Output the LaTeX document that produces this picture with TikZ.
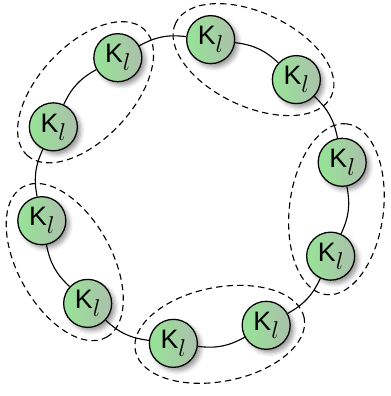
\documentclass[tikz,border=0pt]{standalone}
\usepackage{fontspec}
\setsansfont{Liberation Sans}
\usetikzlibrary{shapes.geometric,shadows.blur}

\definecolor{kLeft}{RGB}{150,228,150}
\definecolor{kRight}{RGB}{172,192,172}

\tikzset{
    kernel/.style={circle, draw=black, line width=0.9pt, minimum size=1.2cm, inner sep=0pt,
        left color=kLeft, right color=kRight,
        blur shadow={shadow xshift=2.5pt, shadow yshift=-2.5pt, shadow blur radius=3pt,
            shadow opacity=40},
        font=\fontsize{19}{22}\selectfont},
    pairbox/.style={ellipse, draw=black, dash pattern=on 4.5pt off 3pt, line width=0.8pt,
        inner sep=0pt, minimum width=4.3cm, minimum height=2.35cm},
    ring/.style={line width=0.8pt}
}

\begin{document}
\begin{tikzpicture}

        \def\ringRadius{3.825}
        \def\startAngle{47}
        \def\stepAngle{36}
        \pgfmathsetmacro\pairRadius{\ringRadius*cos(\stepAngle/2)}

        \useasboundingbox (-4.8, -5.1125) rectangle (4.95, 4.7875);

        % dashed groups
        \foreach \pairNo in {0, ..., 4}
        {
            \pgfmathsetmacro\pairAngle{\startAngle + \stepAngle/2 + 2*\stepAngle*\pairNo}
            \node[pairbox, rotate=\pairAngle+90] (e\pairNo) at (\pairAngle:\pairRadius) {};
        }

        % kernels
        \foreach \kNo in {0, ..., 9}
        {
            \pgfmathsetmacro\kAngle{\startAngle + \stepAngle*\kNo}
            \node[kernel] (k\kNo) at (\kAngle:\ringRadius) {\textsf{K}\raisebox{-0.3em}{$l$}};
        }

        % ring
        \foreach \kNo in {0, ..., 9}
        {
            \pgfmathtruncatemacro\nextNo{mod(\kNo+1, 10)}
            \draw[ring] (k\kNo) to[bend right=18] (k\nextNo);
        }

    \end{tikzpicture}
\end{document}
